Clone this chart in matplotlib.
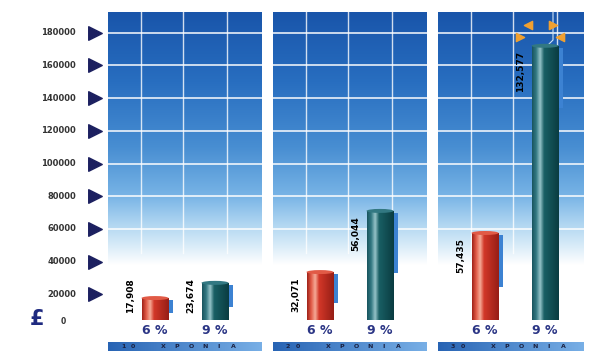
import numpy as np
import matplotlib
matplotlib.use("Agg")
import matplotlib.pyplot as plt
from matplotlib.patches import Rectangle, Ellipse

# values printed on the bars, and the heights the bars are drawn to
periods = ["10", "20", "30"]
period_word = "ΧΡΟΝΙΑ"
rates = ["6 %", "9 %"]
value_labels = [["17,908", "23,674"], ["32,071", "56,044"], ["57,435", "132,577"]]
bar_tops = [[17700, 27000], [33600, 71000], [57500, 172000]]
yticks = [20000, 40000, 60000, 80000, 100000, 120000, 140000, 160000, 180000]

# pixel-ish x axis, value y axis
px = 20000 / 32.7          # value units per pixel
ymax = 200000
ymin = ymax - 351 * px
base = 4300                # bars start slightly above zero

fig = plt.figure(figsize=(5.89, 3.51), dpi=100)
ax = fig.add_axes([0, 0, 1, 1])
ax.set_xlim(0, 589)
ax.set_ylim(ymin, ymax)
ax.axis("off")

panel_left = [108, 273, 438]
panel_w = [154, 154, 146]
panel_top = ymax - 12 * px

# background gradient
stops_v = [panel_top, 150000, 110000, 80000, 65000, 50000, 38000]
stops_c = np.array([(25, 85, 170), (40, 110, 192), (72, 142, 210), (120, 180, 230),
                    (170, 210, 240), (215, 235, 248), (255, 255, 255)]) / 255
vv = np.linspace(panel_top, 38000, 300)
grad = np.stack([np.interp(vv, stops_v[::-1], stops_c[::-1, k]) for k in range(3)], axis=-1)
grad = grad[:, None, :]

for i, x0 in enumerate(panel_left):
    w = panel_w[i]
    ax.imshow(grad, extent=[x0, x0 + w, 38000, panel_top], aspect="auto", zorder=0,
              interpolation="bilinear")
    for v in range(60000, 181000, 20000):
        ax.plot([x0, x0 + w], [v, v], color="white", lw=1.2, alpha=0.9, zorder=1)
    for dx in [33, 75, 119]:
        ax.plot([x0 + dx, x0 + dx], [45000, panel_top], color="white", lw=1.0, alpha=0.8, zorder=1)
    # bottom strip
    strip = np.linspace(0, 1, 100)
    sc = np.array([(40, 100, 180)]) / 255 * (1 - strip[:, None]) + np.array([(120, 175, 230)]) / 255 * strip[:, None]
    ax.imshow(sc[None, :, :], extent=[x0, x0 + w, ymin, ymax - 342 * px], aspect="auto", zorder=1)
    ty = ymax - 346.5 * px
    for k, ch in enumerate(periods[i]):
        ax.text(x0 + 15 + 10 * k, ty, ch, fontsize=4.5, fontweight="bold",
                color="#1a2040", ha="center", va="center", zorder=2)
    for k, ch in enumerate(period_word):
        ax.text(x0 + 55 + 14 * k, ty, ch, fontsize=4.5, fontweight="bold",
                color="#1a2040", ha="center", va="center", zorder=2)

# y axis labels and arrows
for v in yticks:
    ax.text(76, v, str(v), fontsize=6, fontweight="bold", color="#333333",
            ha="right", va="center")
ax.scatter([95] * len(yticks), yticks, marker=">", s=95, color="#1c2060", zorder=3)
ax.text(30, ymax - 319 * px, "£", fontsize=15, fontweight="bold", color="#1e2a80",
        ha="left", va="center")
ax.text(63, ymax - 321 * px, "0", fontsize=5.5, fontweight="bold", color="#333333",
        ha="center", va="center")

# cylinder bars
shades = {
    0: [(160, 35, 25), (225, 90, 70), (245, 170, 150), (210, 55, 40), (150, 30, 22)],
    1: [(25, 85, 95), (50, 120, 130), (150, 195, 200), (25, 95, 100), (10, 60, 65)],
}
offsets = [47, 107]
bw = 27
for i, x0 in enumerate(panel_left):
    for j in range(2):
        cx = x0 + offsets[j]
        top = bar_tops[i][j]
        cols = np.array(shades[j]) / 255
        xs = np.linspace(0, 1, 60)
        pos = [0, 0.15, 0.3, 0.45, 1]
        hg = np.stack([np.interp(xs, pos, cols[:, k]) for k in range(3)], axis=-1)[None, :, :]
        rect = ax.bar(cx, top - base, width=bw, bottom=base, color=cols[3], zorder=3)[0]
        im = ax.imshow(hg, extent=[cx - bw / 2, cx + bw / 2, base, top], aspect="auto", zorder=4)
        im.set_clip_path(rect)
        ax.add_patch(Ellipse((cx, top), bw, 4 * px, facecolor=cols[1], edgecolor="none", zorder=5))
        # blue shadow tab on the right
        tab_len = min((top - base) * 0.6, 60 * px)
        ax.add_patch(Rectangle((cx + bw / 2, top - 2 * px - tab_len), 4, tab_len,
                               facecolor="#3c82d2", edgecolor="none", zorder=2))
        ax.text(cx, ymax - 330 * px, rates[j], fontsize=9, fontweight="bold", color="#2b3585",
                ha="center", va="center", zorder=5)
        ax.text(cx - 24.5, max(top - 3000, 30000), value_labels[i][j], rotation=90, fontsize=6.5,
                fontweight="bold", color="black", ha="center", va="top", zorder=5)

# orange markers and pointer line above the tallest bar
ax.plot([553, 553, 549], [panel_top, ymax - 40 * px, ymax - 44 * px], color="#cfe3f5", lw=0.8, zorder=2)
orange = "#f0a030"
ax.scatter([528], [ymax - 25 * px], marker="<", s=35, color=orange, zorder=6)
ax.scatter([553], [ymax - 25 * px], marker=">", s=35, color=orange, zorder=6)
ax.scatter([520], [ymax - 37 * px], marker=">", s=35, color=orange, zorder=6)
ax.scatter([560], [ymax - 37 * px], marker="<", s=35, color=orange, zorder=6)

fig.savefig("out.png", dpi=100)
